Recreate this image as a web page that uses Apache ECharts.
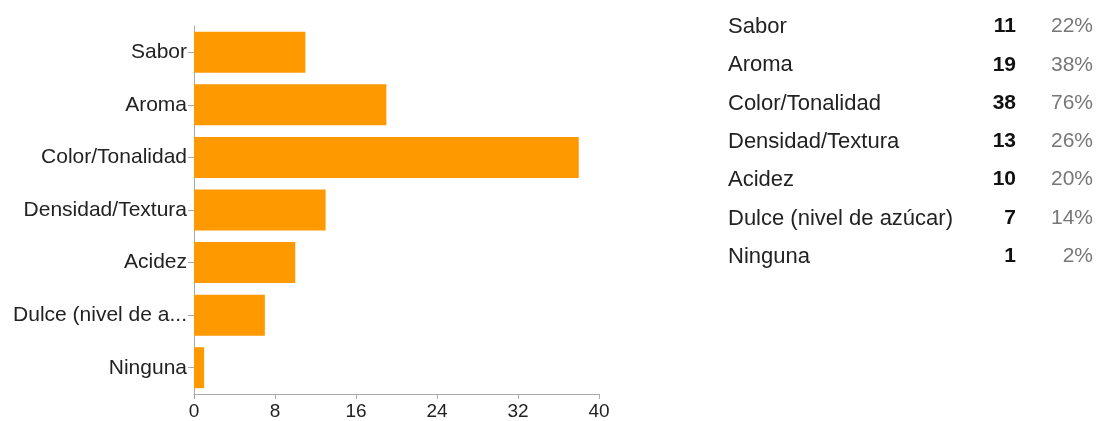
<!DOCTYPE html>
<html>
<head>
<meta charset="utf-8">
<script src="https://cdn.jsdelivr.net/npm/echarts@6/dist/echarts.min.js"></script>
<style>
html,body{margin:0;padding:0;background:#fff;}
#chart{width:1099px;height:421px;}
</style>
</head>
<body>
<div id="chart"></div>
<script>
const categories = ['Sabor','Aroma','Color/Tonalidad','Densidad/Textura','Acidez','Dulce (nivel de azúcar)','Ninguna'];
const axisLabels = ['Sabor','Aroma','Color/Tonalidad','Densidad/Textura','Acidez','Dulce (nivel de a...','Ninguna'];
const counts = [11,19,38,13,10,7,1];
const percents = ['22%','38%','76%','26%','20%','14%','2%'];
const xTicks = [0,8,16,24,32,40];

const FONT = '"Liberation Sans", Arial, Helvetica, sans-serif';
const chart = echarts.init(document.getElementById('chart'));

const rowTop = 28, rowStep = 38.3;
const graphics = [];
categories.forEach((c, i) => {
  const y = rowTop + i * rowStep;
  graphics.push({type:'text', left:728, top:y-12, style:{text:c, font:'22px ' + FONT, fill:'#222'}});
  graphics.push({type:'text', right:1099-1016, top:y-12, style:{text:String(counts[i]), font:'bold 21px ' + FONT, fill:'#111', textAlign:'right'}});
  graphics.push({type:'text', right:1099-1093, top:y-12, style:{text:percents[i], font:'21px ' + FONT, fill:'#777', textAlign:'right'}});
});

chart.setOption({
  animation:false,
  grid:{left:194, right:500, top:26, bottom:25, containLabel:false},
  xAxis:{
    type:'value', min:xTicks[0], max:xTicks[xTicks.length-1], interval:8,
    axisLine:{show:true, lineStyle:{color:'#aaa', width:1}},
    axisTick:{show:true, length:5, lineStyle:{color:'#aaa'}},
    splitLine:{show:false},
    axisLabel:{color:'#222', fontSize:19, fontFamily:FONT, margin:8}
  },
  yAxis:{
    type:'category', inverse:true, data:axisLabels,
    axisLine:{show:true, lineStyle:{color:'#aaa', width:1}},
    axisTick:{show:true, alignWithLabel:true, length:6, lineStyle:{color:'#aaa'}},
    axisLabel:{color:'#222', fontSize:21, fontFamily:FONT, margin:7, padding:[6,0,0,0]}
  },
  series:[{
    type:'bar', data:counts, barCategoryGap:'22%',
    itemStyle:{color:'#ff9900'}
  }],
  graphic:graphics
});
</script>
</body>
</html>
